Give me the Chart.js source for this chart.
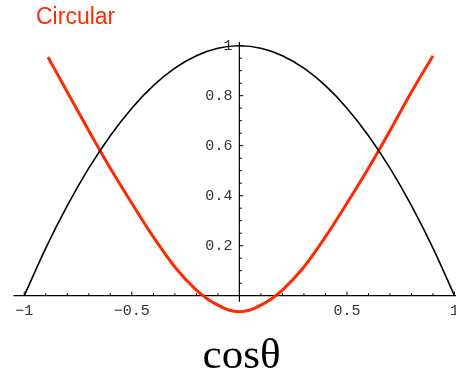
<!DOCTYPE html>
<html>
<head>
<meta charset="utf-8">
<script src="https://cdn.jsdelivr.net/npm/chart.js@4"></script>
<style>
    html, body { margin: 0; padding: 0; background: #fff; }
    #wrap { width: 456px; height: 375px; position: relative; }
</style>
</head>
<body>
<div id="wrap"><canvas id="plot"></canvas></div>
<script>
// Black curve
const blackX = [-1, -0.9, -0.8, -0.7, -0.6, -0.5, -0.4, -0.3, -0.2, -0.1, 0, 0.1, 0.2, 0.3, 0.4, 0.5, 0.6, 0.7, 0.8, 0.9, 1];
const blackY = [0, 0.19, 0.36, 0.51, 0.64, 0.75, 0.84, 0.91, 0.96, 0.99, 1, 0.99, 0.96, 0.91, 0.84, 0.75, 0.64, 0.51, 0.36, 0.19, 0];

// Red "Circular" curve
const redX = [-0.89, -0.8, -0.7, -0.6, -0.5, -0.4, -0.3, -0.2, -0.15, -0.1, -0.05, 0, 0.05, 0.1, 0.15, 0.2, 0.3, 0.4, 0.5, 0.6, 0.7, 0.8, 0.9];
const redY = [0.955, 0.815, 0.66, 0.51, 0.37, 0.235, 0.115, 0.022, -0.012, -0.038, -0.057, -0.064, -0.057, -0.038, -0.012, 0.022, 0.115, 0.235, 0.37, 0.51, 0.66, 0.815, 0.96];

// Axis ticks
const xTickLabels = [-1, -0.5, 0.5, 1];
const yTickLabels = [0.2, 0.4, 0.6, 0.8, 1];

const redColor = '#ff2a00';

function toPoints(xs, ys) {
    return xs.map((x, i) => ({ x: x, y: ys[i] }));
}

function fmt(v) {
    return String(v).replace('-', '\u2212');
}

// Draws the crossing axes with Mathematica-style inward ticks
const axesPlugin = {
    id: 'axesPlugin',
    beforeDatasetsDraw(chart) {
        const ctx = chart.ctx;
        const xs = chart.scales.x;
        const ys = chart.scales.y;
        const y0 = ys.getPixelForValue(0);
        const x0 = xs.getPixelForValue(0);

        ctx.save();
        ctx.strokeStyle = '#000';
        ctx.lineWidth = 1.2;

        ctx.beginPath();
        ctx.moveTo(chart.chartArea.left, y0);
        ctx.lineTo(chart.width, y0);
        ctx.stroke();

        ctx.beginPath();
        ctx.moveTo(x0, ys.getPixelForValue(-0.024));
        ctx.lineTo(x0, ys.getPixelForValue(1.015));
        ctx.stroke();

        // x ticks every 0.1, longer at multiples of 0.5
        ctx.lineWidth = 1;
        for (let i = -10; i <= 10; i++) {
            if (i === 0) continue;
            const px = xs.getPixelForValue(i / 10);
            const len = i % 5 === 0 ? 4 : 2.5;
            ctx.beginPath();
            ctx.moveTo(px, y0);
            ctx.lineTo(px, y0 - len);
            ctx.stroke();
        }

        // y ticks every 0.05, longer at multiples of 0.2
        for (let j = 1; j <= 20; j++) {
            const py = ys.getPixelForValue(j * 0.05);
            const len = j % 4 === 0 ? 4 : 2.5;
            ctx.beginPath();
            ctx.moveTo(x0, py);
            ctx.lineTo(x0 + len, py);
            ctx.stroke();
        }

        ctx.fillStyle = '#333';
        ctx.font = '15px "Liberation Mono", "DejaVu Sans Mono", monospace';
        ctx.textAlign = 'center';
        ctx.textBaseline = 'middle';
        xTickLabels.forEach(v => {
            ctx.fillText(fmt(v), xs.getPixelForValue(v), y0 + 15);
        });

        ctx.textAlign = 'right';
        yTickLabels.forEach(v => {
            ctx.fillText(fmt(v), x0 - 7, ys.getPixelForValue(v));
        });

        ctx.restore();
    },
    afterDraw(chart) {
        const ctx = chart.ctx;
        const xs = chart.scales.x;
        ctx.save();
        ctx.fillStyle = redColor;
        ctx.font = '23px "Liberation Sans", Arial, sans-serif';
        ctx.textAlign = 'left';
        ctx.textBaseline = 'alphabetic';
        ctx.fillText('Circular', 36, 24);

        ctx.fillStyle = '#000';
        ctx.font = '43px "Liberation Serif", "Times New Roman", serif';
        ctx.textAlign = 'center';
        ctx.fillText('cos\u03b8', xs.getPixelForValue(0.01), 368);
        ctx.restore();
    }
};

new Chart(document.getElementById('plot'), {
    type: 'line',
    data: {
        datasets: [
            {
                data: toPoints(blackX, blackY),
                borderColor: '#000',
                borderWidth: 1.6,
                pointRadius: 0,
                cubicInterpolationMode: 'monotone'
            },
            {
                data: toPoints(redX, redY),
                borderColor: redColor,
                borderWidth: 3,
                pointRadius: 0,
                cubicInterpolationMode: 'monotone'
            }
        ]
    },
    options: {
        responsive: true,
        maintainAspectRatio: false,
        animation: false,
        layout: { padding: { left: 13.5, right: 1.5, top: 33.2, bottom: 54.3 } },
        plugins: { legend: { display: false }, tooltip: { enabled: false } },
        scales: {
            x: { type: 'linear', min: -1.05, max: 1, display: false },
            y: { type: 'linear', min: -0.1, max: 1.05, display: false }
        }
    },
    plugins: [axesPlugin]
});
</script>
</body>
</html>
